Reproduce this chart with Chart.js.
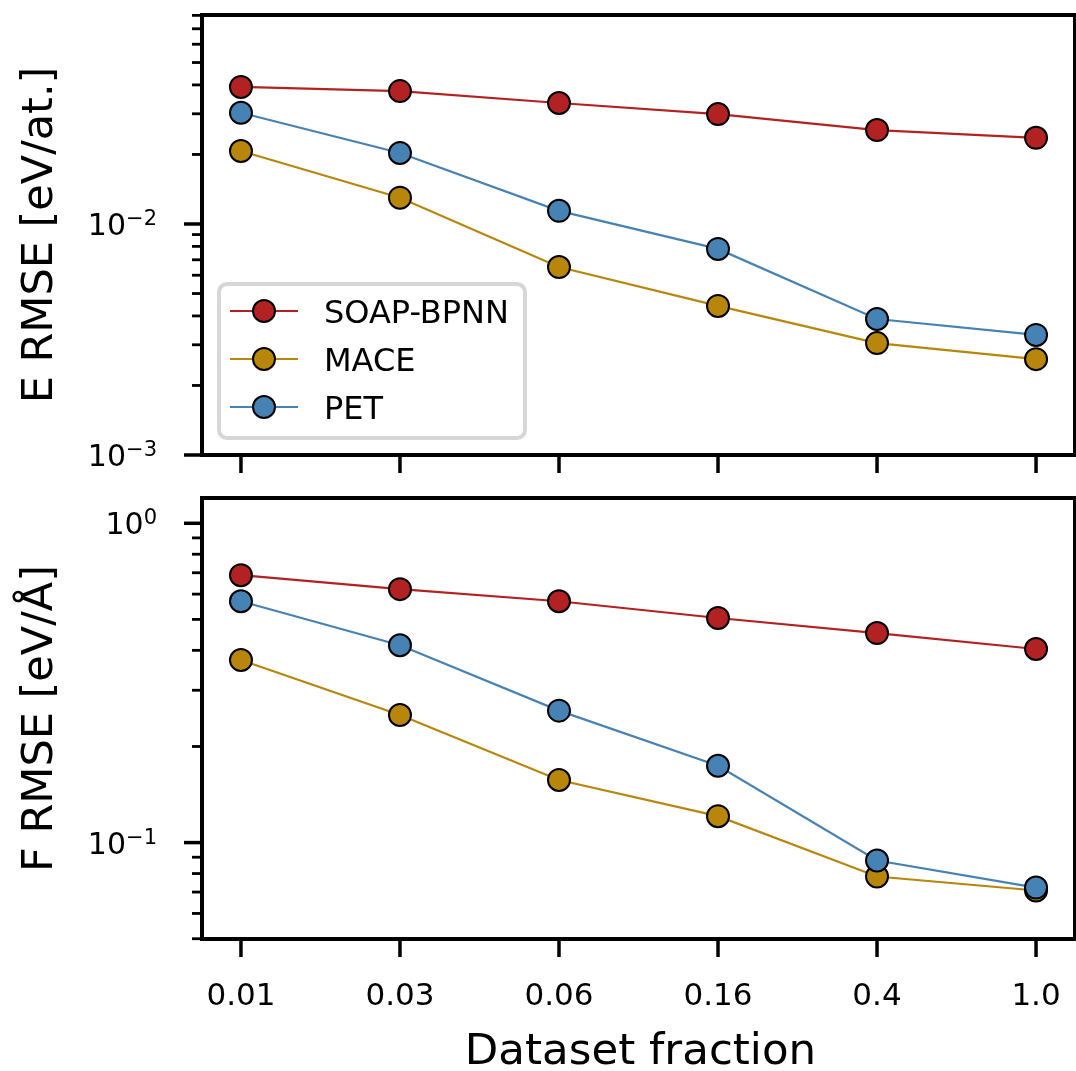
<!DOCTYPE html>
<html>
<head>
<meta charset="utf-8">
<script src="https://cdn.jsdelivr.net/npm/chart.js@4/dist/chart.umd.min.js"></script>
<style>
  body { margin: 0; background: #fff; }
  #wrap { position: relative; width: 1076px; height: 1071px; }
  canvas { position: absolute; left: 0; }
</style>
</head>
<body>
<div id="wrap">
  <canvas id="energyChart" width="1076" height="480" style="top:0"></canvas>
  <canvas id="forceChart" width="1076" height="591" style="top:480px"></canvas>
</div>
<script>
// Dataset fractions (x categories)
var fractions = ['0.01', '0.03', '0.06', '0.16', '0.4', '1.0'];

// Energy RMSE [eV/at.]
var energySoap = [0.0392, 0.0376, 0.0334, 0.0299, 0.0255, 0.0236];
var energyMace = [0.0207, 0.0130, 0.00651, 0.00442, 0.00305, 0.00260];
var energyPet = [0.0303, 0.0203, 0.0114, 0.0078, 0.00388, 0.00331];

// Force RMSE [eV/Å]
var forceSoap = [0.688, 0.622, 0.570, 0.505, 0.453, 0.404];
var forceMace = [0.373, 0.251, 0.157, 0.121, 0.0783, 0.0708];
var forcePet = [0.570, 0.415, 0.259, 0.174, 0.0879, 0.0723];

// Labelled decades on each y axis
var energyDecades = [-3, -2];
var forceDecades = [-1, 0];

var modelNames = ['SOAP-BPNN', 'MACE', 'PET'];
var modelColors = ['#b22222', '#b8860b', '#4682b4'];

var FONT = '"DejaVu Sans", sans-serif';

function toPoints(values) {
    return values.map(function (v, i) { return { x: i, y: v }; });
}

function makeDataset(idx, values) {
    return {
        label: modelNames[idx],
        data: toPoints(values),
        borderColor: modelColors[idx],
        backgroundColor: modelColors[idx],
        borderWidth: 2.2,
        pointRadius: 11,
        pointHoverRadius: 11,
        pointBorderColor: '#000',
        pointBorderWidth: 2,
        pointBackgroundColor: modelColors[idx],
        tension: 0,
        order: 2 - idx,
        clip: false
    };
}

function drawPower(ctx, exp, xRight, y) {
    var base = '10';
    var sup = exp < 0 ? '\u2212' + (-exp) : String(exp);
    ctx.font = '30px ' + FONT;
    var bw = ctx.measureText(base).width;
    ctx.font = '21px ' + FONT;
    var sw = ctx.measureText(sup).width;
    var x0 = xRight - sw - bw;
    ctx.textAlign = 'left';
    ctx.textBaseline = 'alphabetic';
    ctx.fillStyle = '#000';
    ctx.font = '30px ' + FONT;
    ctx.fillText(base, x0, y + 11);
    ctx.font = '21px ' + FONT;
    ctx.fillText(sup, x0 + bw, y + 1);
}

// Draws the matplotlib-style frame, ticks, labels and legend
var axesPlugin = {
    id: 'axesDeco',
    afterDatasetsDraw: function (chart, args, opts) {
        var ctx = chart.ctx;
        var a = chart.chartArea;
        var xs = chart.scales.x, ys = chart.scales.y;
        ctx.save();
        ctx.strokeStyle = '#000';
        ctx.lineCap = 'butt';

        // y minor + major ticks
        for (var k = opts.decades[0] - 1; k <= opts.decades[1] + 1; k++) {
            for (var m = 1; m <= 9; m++) {
                var v = m * Math.pow(10, k);
                if (v < ys.min * 0.999 || v > ys.max * 1.001) continue;
                var py = ys.getPixelForValue(v);
                ctx.lineWidth = m === 1 ? 3.5 : 2.8;
                ctx.beginPath();
                ctx.moveTo(a.left, py);
                ctx.lineTo(a.left - (m === 1 ? 18 : 10), py);
                ctx.stroke();
            }
        }
        opts.decades.forEach(function (d) {
            drawPower(ctx, d, 157, ys.getPixelForValue(Math.pow(10, d)));
        });

        // x ticks
        ctx.lineWidth = 3.5;
        fractions.forEach(function (f, i) {
            var px = xs.getPixelForValue(i);
            ctx.beginPath();
            ctx.moveTo(px, a.bottom);
            ctx.lineTo(px, a.bottom + 18);
            ctx.stroke();
            if (opts.xLabels) {
                ctx.fillStyle = '#000';
                ctx.font = '31px ' + FONT;
                ctx.textAlign = 'center';
                ctx.textBaseline = 'alphabetic';
                ctx.fillText(f, px, a.bottom + 66);
            }
        });

        // frame
        ctx.lineWidth = 4;
        ctx.strokeRect(a.left, a.top, a.right - a.left, a.bottom - a.top);

        // y title
        ctx.save();
        ctx.translate(52, (a.top + a.bottom) / 2);
        ctx.rotate(-Math.PI / 2);
        ctx.font = '43px ' + FONT;
        ctx.textAlign = 'center';
        ctx.textBaseline = 'alphabetic';
        ctx.fillStyle = '#000';
        ctx.fillText(opts.yTitle, 0, 0);
        ctx.restore();

        if (opts.xTitle) {
            ctx.font = '43.5px ' + FONT;
            ctx.textAlign = 'center';
            ctx.fillStyle = '#000';
            ctx.fillText(opts.xTitle, (a.left + a.right) / 2 + 2, a.bottom + 125);
        }

        if (opts.legend) {
            var bx = 219, by = 284, bw = 306, bh = 154, r = 8;
            ctx.beginPath();
            ctx.roundRect(bx, by, bw, bh, r);
            ctx.fillStyle = 'rgba(255,255,255,0.8)';
            ctx.fill();
            ctx.lineWidth = 4;
            ctx.strokeStyle = '#d6d6d6';
            ctx.stroke();
            modelNames.forEach(function (name, i) {
                var ly = 311 + i * 48;
                ctx.strokeStyle = modelColors[i];
                ctx.lineWidth = 2.2;
                ctx.beginPath();
                ctx.moveTo(230, ly);
                ctx.lineTo(298, ly);
                ctx.stroke();
                ctx.beginPath();
                ctx.arc(264, ly, 11, 0, Math.PI * 2);
                ctx.fillStyle = modelColors[i];
                ctx.fill();
                ctx.lineWidth = 2;
                ctx.strokeStyle = '#000';
                ctx.stroke();
                ctx.fillStyle = '#000';
                ctx.font = '32px ' + FONT;
                ctx.textAlign = 'left';
                ctx.textBaseline = 'alphabetic';
                ctx.fillText(name, 324, ly + 12);
            });
        }
        ctx.restore();
    }
};

function makeChart(id, sets, yMin, yMax, padding, deco) {
    return new Chart(document.getElementById(id).getContext('2d'), {
        type: 'line',
        data: { datasets: sets },
        options: {
            responsive: false,
            animation: false,
            layout: { padding: padding, autoPadding: false },
            plugins: {
                legend: { display: false },
                tooltip: { enabled: false },
                axesDeco: deco
            },
            scales: {
                x: { type: 'linear', min: -0.245, max: 5.245, display: false },
                y: { type: 'logarithmic', min: yMin, max: yMax, display: false }
            }
        },
        plugins: [axesPlugin]
    });
}

var energyChart = makeChart('energyChart',
    [makeDataset(0, energySoap), makeDataset(1, energyMace), makeDataset(2, energyPet)],
    0.001, 0.0803,
    { left: 202, right: 1, top: 15, bottom: 25 },
    { decades: energyDecades, yTitle: 'E RMSE [eV/at.]', xLabels: false, legend: true });

var forceChart = makeChart('forceChart',
    [makeDataset(0, forceSoap), makeDataset(1, forceMace), makeDataset(2, forcePet)],
    0.0499, 1.2,
    { left: 202, right: 1, top: 18, bottom: 132 },
    { decades: forceDecades, yTitle: 'F RMSE [eV/Å]', xLabels: true, xTitle: 'Dataset fraction', legend: false });
</script>
</body>
</html>
